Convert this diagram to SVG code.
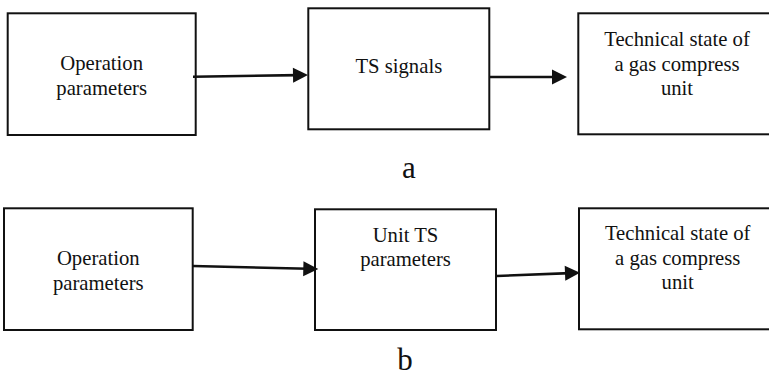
<svg xmlns="http://www.w3.org/2000/svg" width="769" height="377" viewBox="0 0 769 377">
<style>
.box{fill:#fff;stroke:#111;stroke-width:2}
.t{font-family:'Liberation Serif','Times New Roman','DejaVu Serif',serif;font-size:20.7px;fill:#111;text-anchor:middle}
.lbl{font-family:'Liberation Serif','Times New Roman','DejaVu Serif',serif;font-size:31px;fill:#111;text-anchor:middle}
.arr{stroke:#111;stroke-width:2.6;fill:none;marker-end:url(#ah)}
</style>
<defs>
<marker id="ah" markerUnits="userSpaceOnUse" markerWidth="16" markerHeight="16" refX="5" refY="7.5" orient="auto" overflow="visible">
<path d="M0,0 L15,7.5 L0,15 z" fill="#111"/>
</marker>
</defs>
<rect width="769" height="377" fill="#fff"/>
<g id="a-operation">
<rect class="box" x="7.7" y="13.3" width="188" height="121.7"/>
<text class="t" x="101.7" y="70">Operation</text>
<text class="t" x="101.7" y="95">parameters</text>
</g>
<g id="a-ts-signals">
<rect class="box" x="308.3" y="8.3" width="181" height="121"/>
<text class="t" x="398.8" y="73">TS signals</text>
</g>
<g id="a-technical-state">
<rect class="box" x="578.3" y="13.3" width="200" height="121"/>
<text class="t" x="677" y="46">Technical state of</text>
<text class="t" x="677" y="70.5">a gas compress</text>
<text class="t" x="677" y="95">unit</text>
</g>
<g id="b-operation">
<rect class="box" x="4" y="208.3" width="188.7" height="121.7"/>
<text class="t" x="98.3" y="265">Operation</text>
<text class="t" x="98.3" y="289.5">parameters</text>
</g>
<g id="b-unit-ts">
<rect class="box" x="315" y="209.3" width="181" height="120.7"/>
<text class="t" x="405.5" y="241.5">Unit TS</text>
<text class="t" x="405.5" y="266">parameters</text>
</g>
<g id="b-technical-state">
<rect class="box" x="579" y="208.3" width="200" height="121"/>
<text class="t" x="677.7" y="240">Technical state of</text>
<text class="t" x="677.7" y="264.5">a gas compress</text>
<text class="t" x="677.7" y="289">unit</text>
</g>
<g id="connectors">
<line class="arr" x1="193" y1="76.7" x2="298" y2="75.15"/>
<line class="arr" x1="490" y1="77" x2="557" y2="77"/>
<line class="arr" x1="193" y1="266" x2="308.3" y2="268.8"/>
<line class="arr" x1="496.7" y1="276" x2="570" y2="273.1"/>
</g>
<text class="lbl" x="409" y="178">a</text>
<text class="lbl" x="405" y="370">b</text>
</svg>
